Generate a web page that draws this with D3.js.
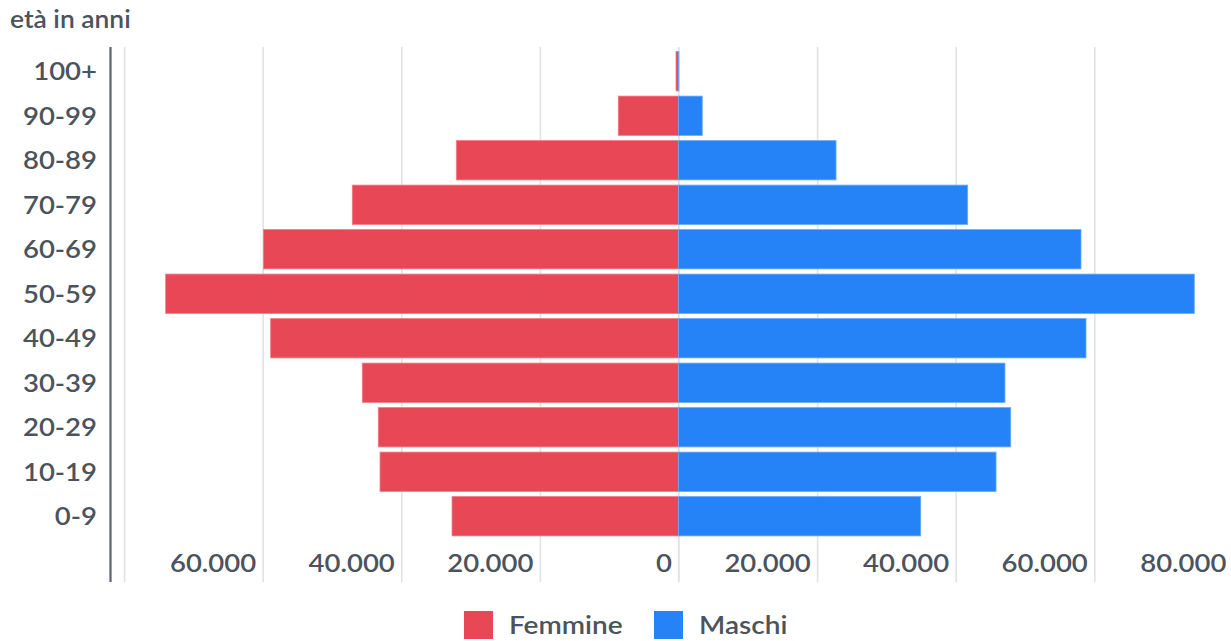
<!DOCTYPE html>
<html>
<head>
<meta charset="utf-8">
<script src="https://cdn.jsdelivr.net/npm/d3@7"></script>
<style>
  html, body { margin: 0; padding: 0; background: #ffffff; }
  svg { display: block; font-family: Lato, "Open Sans", sans-serif; }
</style>
</head>
<body>
<svg id="chart" width="1231" height="641"></svg>
<script>
// Age groups, top to bottom
const ageGroups = ["100+", "90-99", "80-89", "70-79", "60-69", "50-59", "40-49", "30-39", "20-29", "10-19", "0-9"];
// Residents by age group
const femmine = [360, 8690, 32060, 47070, 59900, 74000, 58850, 45630, 43320, 43070, 32680];
const maschi  = [60, 3430, 22730, 41730, 58080, 74430, 58800, 47110, 47940, 45820, 34950];
// Gridlines and labelled ticks on the population axis
const gridValues = [-80000, -60000, -40000, -20000, 0, 20000, 40000, 60000, 80000];
const labelValues = [-60000, -40000, -20000, 0, 20000, 40000, 60000, 80000];
const seriesNames = ["Femmine", "Maschi"];
const seriesColors = ["#e84755", "#2682f7"];
const yAxisTitle = "età in anni";

const svg = d3.select("#chart");
const textColor = "#4b535d";
const weight = 600;
const sx = 1.1; // horizontal stretch of the label face

const plotTop = 47, plotBottom = 582;
const x = d3.scaleLinear().domain([-80000, 80000]).range([124.1, 1232.9]);
const y = d3.scaleBand().domain(ageGroups).range([49, 538.5]).paddingInner(0.117).paddingOuter(0.0585);

const it = d3.formatLocale({ decimal: ",", thousands: ".", grouping: [3], currency: ["€", ""] });
const fmt = it.format(",d");

// Vertical gridlines
const grid = svg.append("g")
  .attr("transform", `translate(0,${plotBottom})`)
  .call(d3.axisBottom(x).tickValues(gridValues).tickSize(-(plotBottom - plotTop)).tickFormat(""));
grid.select(".domain").remove();
grid.selectAll(".tick line").attr("stroke", "#e2e2e2").attr("stroke-width", 1.6);
grid.selectAll(".tick text").remove();

// Tick labels sit inside the plot, right-aligned to their gridline
const xLabels = svg.append("g")
  .attr("transform", `translate(0,${plotBottom})`)
  .call(d3.axisBottom(x).tickValues(labelValues).tickSize(0).tickFormat(d => fmt(Math.abs(d))));
xLabels.select(".domain").remove();
xLabels.selectAll(".tick text")
  .attr("y", -10).attr("dy", 0)
  .attr("text-anchor", "end")
  .attr("fill", textColor)
  .style("font-family", "Lato, sans-serif")
  .style("font-weight", weight)
  .style("font-size", "25px")
  .attr("transform", `scale(${sx},1)`)
  .attr("x", -7 / sx);

// Bars
const rows = ageGroups.map((g, i) => ({ g, f: femmine[i], m: maschi[i] }));
const bars = svg.append("g");
bars.selectAll("rect.f").data(rows).join("rect")
  .attr("class", "f")
  .attr("x", d => x(-d.f)).attr("width", d => x(0) - x(-d.f))
  .attr("y", d => y(d.g)).attr("height", y.bandwidth())
  .attr("fill", seriesColors[0])
  .attr("stroke", "#f07a84").attr("stroke-width", 0.8);
bars.selectAll("rect.m").data(rows).join("rect")
  .attr("class", "m")
  .attr("x", x(0)).attr("width", d => x(d.m) - x(0))
  .attr("y", d => y(d.g)).attr("height", y.bandwidth())
  .attr("fill", seriesColors[1])
  .attr("stroke", "#6aa8fa").attr("stroke-width", 0.8);

// Zero line
svg.append("line")
  .attr("x1", x(0)).attr("x2", x(0)).attr("y1", plotTop).attr("y2", plotBottom)
  .attr("stroke", "#dcdcdc").attr("stroke-width", 1.2).lower();

// Category axis
const yAxis = svg.append("g")
  .attr("transform", "translate(110,0)")
  .call(d3.axisLeft(y).tickSize(0));
yAxis.select(".domain").remove();
yAxis.selectAll(".tick text")
  .attr("fill", textColor)
  .style("font-family", "Lato, sans-serif")
  .style("font-weight", weight)
  .style("font-size", "25px")
  .attr("dy", "0.36em")
  .attr("transform", `scale(${sx},1)`)
  .attr("x", -13 / sx);
svg.append("line")
  .attr("x1", 110.5).attr("x2", 110.5).attr("y1", plotTop).attr("y2", plotBottom)
  .attr("stroke", "#5d6570").attr("stroke-width", 2.2);

// Axis title
svg.append("text")
  .attr("transform", `translate(10,28) scale(${sx},1)`)
  .attr("fill", textColor)
  .style("font-weight", weight)
  .style("font-size", "24px")
  .text(yAxisTitle);

// Legend
const legend = svg.append("g");
const legendItems = [{ x: 464, name: seriesNames[0], c: seriesColors[0] }, { x: 654, name: seriesNames[1], c: seriesColors[1] }];
legendItems.forEach(item => {
  legend.append("rect").attr("x", item.x).attr("y", 611).attr("width", 29).attr("height", 28).attr("fill", item.c);
  legend.append("text")
    .attr("transform", `translate(${item.x + 45},634) scale(${sx},1)`)
    .attr("fill", textColor)
    .style("font-weight", weight)
    .style("font-size", "25.5px")
    .text(item.name);
});
</script>
</body>
</html>
